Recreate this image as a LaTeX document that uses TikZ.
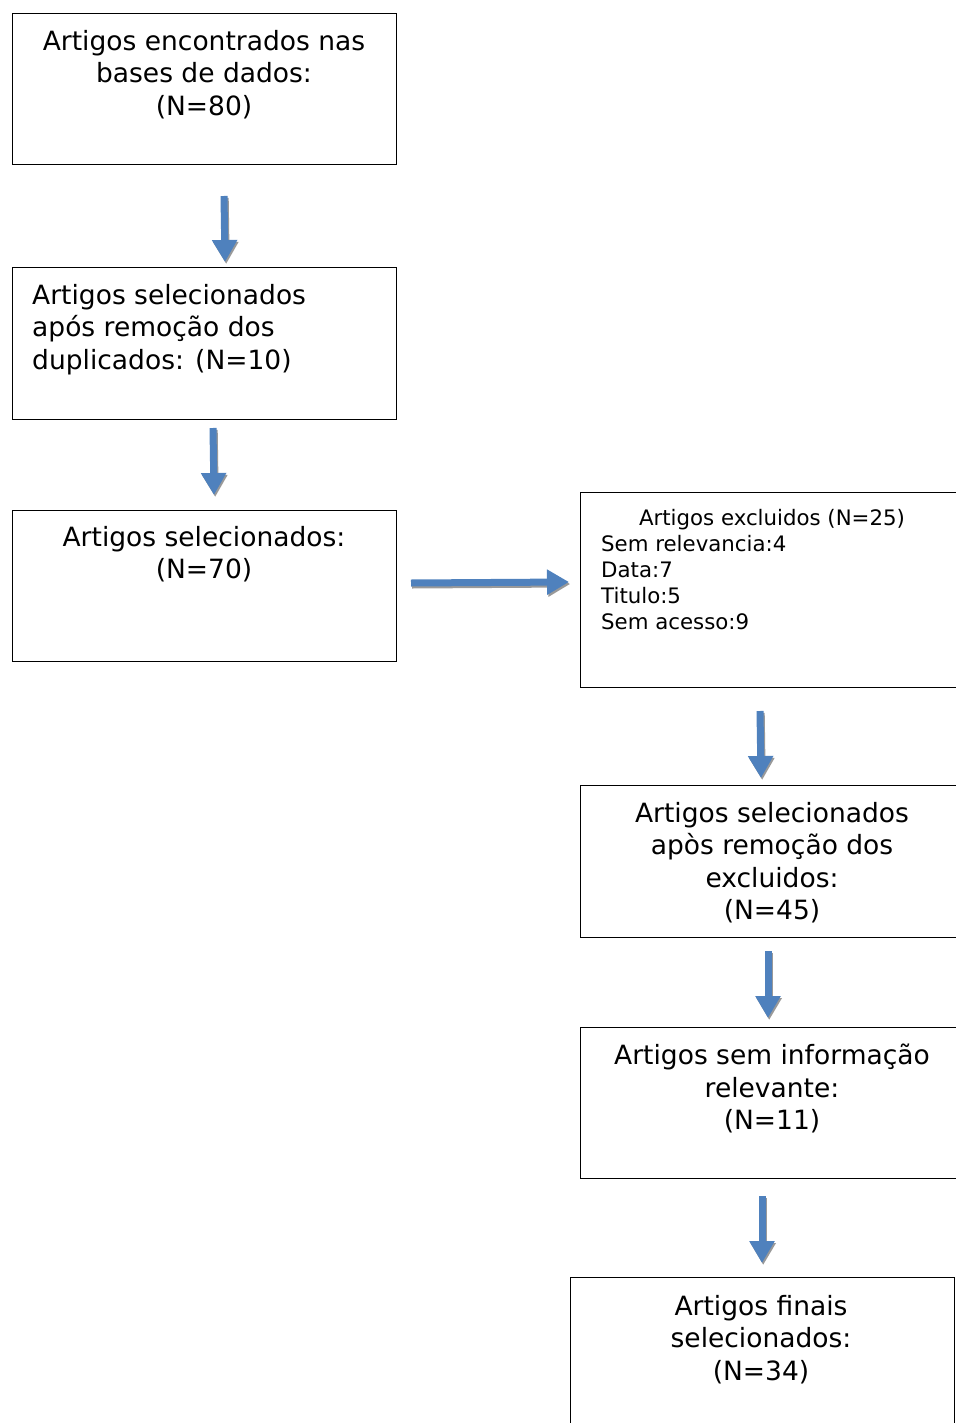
\documentclass[tikz,border=0pt]{standalone}
\usepackage{fontspec}
\setmainfont{DejaVu Sans}
\usetikzlibrary{arrows.meta}

\definecolor{arrowblue}{HTML}{4F81BD}
\tikzset{
  box/.style   = {draw, line width=1.4pt, anchor=north west, inner sep=0pt},
  txt/.style   = {anchor=north, inner sep=0pt, align=center,
                  font=\fontsize{26.5}{32.5}\selectfont},
  smalltxt/.style = {anchor=north west, inner sep=0pt, align=left,
                  font=\fontsize{21.3}{26}\selectfont},
  flow/.style  = {line width=7pt, arrowblue,
                  -{Triangle[width=24pt, length=22pt]}},
  shade/.style = {line width=7pt, gray!80,
                  -{Triangle[width=24pt, length=22pt]}}
}

\begin{document}
\begin{tikzpicture}[x=1pt, y=-1pt]
  \useasboundingbox (0,0) rectangle (955,1423);

  \node[box, minimum width=384pt, minimum height=151pt] (b1) at (12,13) {};
  \node[box, minimum width=384pt, minimum height=152pt] (b2) at (12,267) {};
  \node[box, minimum width=384pt, minimum height=151pt] (b3) at (12,510) {};
  \node[box, minimum width=384pt, minimum height=195pt] (b4) at (580,492) {};
  \node[box, minimum width=384pt, minimum height=152pt] (b5) at (580,785) {};
  \node[box, minimum width=384pt, minimum height=151pt] (b6) at (580,1027) {};
  \node[box, minimum width=384pt, minimum height=160pt] (b7) at (570,1277) {};

  \node[txt] (t1) at (204,30) {Artigos encontrados nas\\bases de dados:\\(N=80)};
  \node[txt, align=left, anchor=north west] (t2) at (32,284)
    {Artigos selecionados\\após remoção dos\\duplicados: (N=10)};
  \node[txt] (t3) at (204,526) {Artigos selecionados:\\(N=70)};
  \node[smalltxt, anchor=north] (t4) at (772,509) {Artigos excluidos (N=25)};
  \node[smalltxt] (t4b) at (601,535)
    {Sem relevancia:4\\Data:7\\Titulo:5\\Sem acesso:9};
  \node[txt] (t5) at (772,802)
    {Artigos selecionados\\apòs remoção dos\\excluidos:\\(N=45)};
  \node[txt] (t6) at (772,1044) {Artigos sem informação\\relevante:\\(N=11)};
  \node[txt] (t7) at (761,1295) {Artigos finais\\selecionados:\\(N=34)};

  \coordinate (a1s) at (224,196);  \coordinate (a1e) at (225,262);
  \coordinate (a2s) at (213,428);  \coordinate (a2e) at (214,495);
  \coordinate (a3s) at (411,583);  \coordinate (a3e) at (569,582);
  \coordinate (a4s) at (760,711);  \coordinate (a4e) at (761,778);
  \coordinate (a5s) at (768,951);  \coordinate (a5e) at (768,1018);
  \coordinate (a6s) at (762,1196); \coordinate (a6e) at (762,1263);

  \foreach \a in {a1,a2,a3,a4,a5,a6} {
    \draw[shade, transform canvas={shift={(1.2pt,-2pt)}}] (\a s) -- (\a e);
    \draw[flow] (\a s) -- (\a e);
  }
\end{tikzpicture}
\end{document}
